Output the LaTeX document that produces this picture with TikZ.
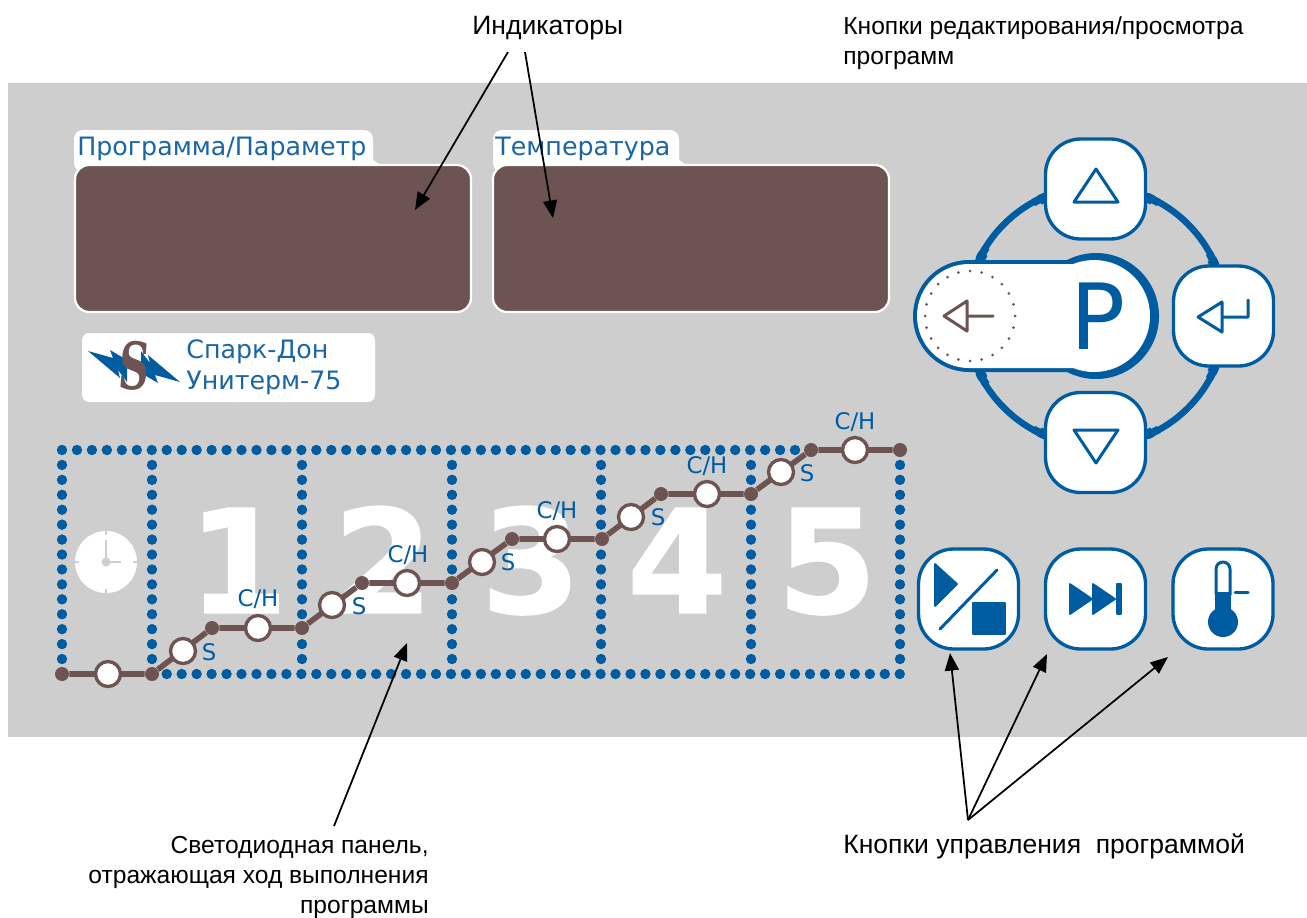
\documentclass[tikz,border=0pt]{standalone}
\usepackage{fontspec}
\setmainfont{Liberation Sans}
\newfontfamily\panelfont{DejaVu Sans}
\newfontfamily\numfont[FakeBold=1]{DejaVu Sans Bold}
\newfontfamily\logofont{DejaVu Serif}
\usetikzlibrary{calc,positioning,arrows.meta}
\definecolor{panelgray}{HTML}{CECECE}
\definecolor{ledblue}{HTML}{005CA0}
\definecolor{tabblue}{HTML}{1A66A5}
\definecolor{brownled}{HTML}{6E5353}
\tikzset{
    arrowline/.style={black, line width=1pt, -{Triangle[length=10pt,width=8pt]}},
    caption/.style={font=\fontsize{14}{17}\selectfont, inner sep=0pt, align=left},
    bigcaption/.style={font=\fontsize{15.1}{17}\selectfont, inner sep=0pt},
    display/.style={draw=white, fill=brownled, line width=1.3pt, rounded corners=8pt, minimum width=396*0.02cm, minimum height=147*0.02cm, inner sep=0pt},
    tablabel/.style={font=\panelfont\fontsize{14.4}{16}\selectfont, text=tabblue, anchor=base west, inner sep=0pt},
    logolabel/.style={font=\panelfont\fontsize{14.4}{16}\selectfont, text=tabblue, anchor=base west, inner sep=0pt},
    btn/.style={draw=ledblue, fill=white, line width=1.9pt, rounded corners=20pt, minimum width=100*0.02cm, minimum height=100*0.02cm, inner sep=0pt},
    icon/.style={draw=ledblue, line width=1.7pt, line join=round, line cap=round},
    iconfill/.style={fill=ledblue, draw=ledblue, line width=1pt, line join=round},
    ledlab/.style={font=\panelfont\fontsize{13}{15}\selectfont, text=ledblue, inner sep=0pt},
    bignum/.style={font=\numfont\fontsize{82}{82}\selectfont, text=white, anchor=base, inner sep=0pt},
    ledring/.style={circle, draw=brownled, fill=white, line width=1.9pt, minimum size=25*0.02cm, inner sep=0pt},
    ledjoint/.style={circle, fill=brownled, minimum size=14*0.02cm, inner sep=0pt},
}
\begin{document}
\begin{tikzpicture}[x=0.02cm,y=-0.02cm]
\useasboundingbox (0,0) rectangle (1307,917);
\fill[white] (0,0) rectangle (1307,917);
\fill[panelgray] (8,83) rectangle (1307,737);

% Tabs and displays
\fill[white, rounded corners=5pt] (74,172) -- (74,130) -- (373,130) -- (373,172) -- cycle;
\fill[white] (373,160) -- (379,164) -- (373,170) -- cycle;
\fill[white, rounded corners=5pt] (493,172) -- (493,130) -- (679,130) -- (679,172) -- cycle;
\fill[white] (679,160) -- (685,164) -- (679,170) -- cycle;
\node[display] (prog) at (273,238.5) {};
\node[display] (temp) at (691,238.5) {};
\node[tablabel] (progtab) at (77,155) {Программа/Параметр};
\node[tablabel] (temptab) at (495,155) {Температура};

% Logo plate
\fill[white, rounded corners=4pt] (82,333) rectangle (375,402);
\fill[ledblue] (88,351) -- (113,358) -- (110,350) -- (127,360) -- (127,382) -- (118,370) -- (120,378) -- cycle;
\fill[ledblue] (180,382) -- (155,375) -- (158,383) -- (141,373) -- (141,351) -- (150,363) -- (148,355) -- cycle;
\node[font=\logofont\bfseries\fontsize{37}{37}\selectfont, text=brownled, inner sep=0pt, xscale=0.65, xslant=0.12] (logos) at (135,366) {S};
\node[logolabel] (logo1) at (186,358) {Спарк-Дон};
\node[logolabel] (logo2) at (186,389) {Унитерм-75};

% Clock
\fill[white] (106,562) circle [radius=31];
\draw[panelgray, line width=1.4pt] (106,540) -- (106,562) -- (121,562);
\fill[panelgray] (106,562) circle [radius=4.5];
\foreach \x/\y/\u/\v in {106/531/0/4, 106/593/0/-4, 75/562/4/0, 137/562/-4/0} {
    \draw[panelgray, line width=1pt] (\x,\y) -- ++(\u,\v);
}

% Big numbers
\foreach \n/\x in {1/238, 2/383, 3/531, 4/677, 5/827} {
    \node[bignum] (num\n) at (\x,613) {\n};
}

% Blue dots of the panel
\foreach \k in {0,...,49} {
    \fill[ledblue] (62+14.96*\k,450) circle [radius=5.2];
}
\foreach \k in {7,...,56} {
    \fill[ledblue] (62+14.96*\k,674) circle [radius=5.2];
}
\foreach \x in {62,152,302,452,601,751,900} {
    \foreach \k in {1,...,14} {
        \fill[ledblue] (\x,450+14.93*\k) circle [radius=5.2];
    }
}

% Brown line
\foreach \i/\x/\y in {1/62/674, 2/152/674, 3/212/628, 4/302/628, 5/362/583, 6/452/583, 7/512/539, 8/602/539, 9/661/494, 10/751/494, 11/811/450, 12/900/450} {
    \node[ledjoint] (j\i) at (\x,\y) {};
}
\draw[brownled, line width=3.2pt] (j1) -- (j2) -- (j3) -- (j4) -- (j5) -- (j6) -- (j7) -- (j8) -- (j9) -- (j10) -- (j11) -- (j12);
\foreach \i/\x/\y in {1/108/674, 2/183/651, 3/258/628, 4/332/605, 5/407/583, 6/482/562, 7/557/539, 8/631/517, 9/707/494, 10/781/472, 11/855/450} {
    \node[ledring] (led\i) at (\x,\y) {};
}
\foreach \i/\x/\y in {1/209/652, 2/359/606, 3/508/562, 4/658/517, 5/807/473} {
    \node[ledlab] (s\i) at (\x,\y) {S};
}
\foreach \i/\x/\y in {1/258/599, 2/408/555, 3/557/511, 4/707/466, 5/855/422} {
    \node[ledlab] (ch\i) at (\x,\y) {С/Н};
}

% Ring round the buttons, a little wider where it meets them
\coordinate (hub) at (1096,316);
\draw[ledblue, line width=3.7pt] (hub) circle [radius=130];
\foreach \a/\d in {67/-1, 23/1, 113/1, 154/-1, 206/1, 247/-1, 293/1, 337/-1} {
    \draw[ledblue, line width=4.4pt] ($(hub)+(\a:129.5)$) arc [start angle=\a, delta angle=\d*6, radius=129.5];
    \draw[ledblue, line width=5.6pt] ($(hub)+(\a:129)$) arc [start angle=\a, delta angle=\d*3, radius=129];
}

% Pill with the P button
\fill[ledblue] (hub) circle [radius=63];
\fill[ledblue] (969,372) arc [start angle=90, end angle=270, radius=56] -- (1096,260) -- (1096,372) -- cycle;
\fill[white] (969,368) arc [start angle=90, end angle=270, radius=52] -- (1096,264) -- (1096,368) -- cycle;
\fill[white] (1094,316) circle [radius=56];
\foreach \a in {0,15,...,345} {
    \fill[brownled] ($(970,316)+(\a:45)$) circle [radius=1.5];
}
\draw[brownled, line width=1.7pt, line join=round, line cap=round] (944,316) -- (967,301) -- (967,331) -- cycle (967,316) -- (993,316);
\node[font=\panelfont\fontsize{52}{52}\selectfont, text=ledblue, inner sep=0pt] (pkey) at (1098,316) {P};

% Buttons
\node[btn] (up) at (1095.5,189) {};
\node[btn] (down) at (1095.5,442.5) {};
\node[btn] (enter) at (1223.5,316) {};
\node[btn] (play) at (968.5,599) {};
\node[btn] (skip) at (1095.5,599) {};
\node[btn] (therm) at (1223,599) {};

% Button icons
\draw[icon] (1096,169) -- (1074,202) -- (1118,202) -- cycle;
\draw[icon] (1096,463) -- (1074,430) -- (1118,430) -- cycle;
\draw[icon] (1198,317) -- (1222,302) -- (1222,332) -- cycle (1222,317) -- (1248,317) -- (1248,300);
\fill[iconfill] (935,564) -- (957,584) -- (935,606) -- cycle;
\draw[icon] (940,629) -- (997,570);
\fill[iconfill] (973,603) rectangle (1005,634);
\fill[iconfill] (1070,584) -- (1092,599) -- (1070,614) -- cycle;
\fill[iconfill] (1093,584) -- (1115,599) -- (1093,614) -- cycle;
\fill[iconfill] (1117,584) rectangle (1121,614);
\draw[icon] (1216,595) -- (1216,569) arc [start angle=180, end angle=360, radius=7] -- (1230,595);
\fill[ledblue] (1215,592) rectangle (1231,615);
\fill[ledblue] (1223,622) circle [radius=15];
\draw[icon] (1235,592) -- (1248,592);

% Captions
\node[bigcaption, anchor=base west] (indlab) at (472,34) {Индикаторы};
\node[caption, anchor=base west] (editlab) at (843,64.5) {Кнопки редактирования/просмотра\\программ};
\node[caption, anchor=base east, align=right] (ledlab1) at (429,913) {Светодиодная панель,\\отражающая ход выполнения\\программы};
\node[bigcaption, anchor=base west] (ctrllab) at (843,853) {Кнопки управления\ \ программой};

% Arrows
\coordinate (indtail1) at (508,52);
\coordinate (indtip1) at (415,210);
\coordinate (indtail2) at (525,52);
\coordinate (indtip2) at (553,218);
\coordinate (ledtail) at (334,826);
\coordinate (ledtip) at (407,643);
\coordinate (ctrltail) at (968,820);
\coordinate (ctrltip1) at (950,653);
\coordinate (ctrltip2) at (1047,654);
\coordinate (ctrltip3) at (1168,657);
\draw[arrowline] (indtail1) -- (indtip1);
\draw[arrowline] (indtail2) -- (indtip2);
\draw[arrowline] (ledtail) -- (ledtip);
\draw[arrowline] (ctrltail) -- (ctrltip1);
\draw[arrowline] (ctrltail) -- (ctrltip2);
\draw[arrowline] (ctrltail) -- (ctrltip3);
\end{tikzpicture}
\end{document}
